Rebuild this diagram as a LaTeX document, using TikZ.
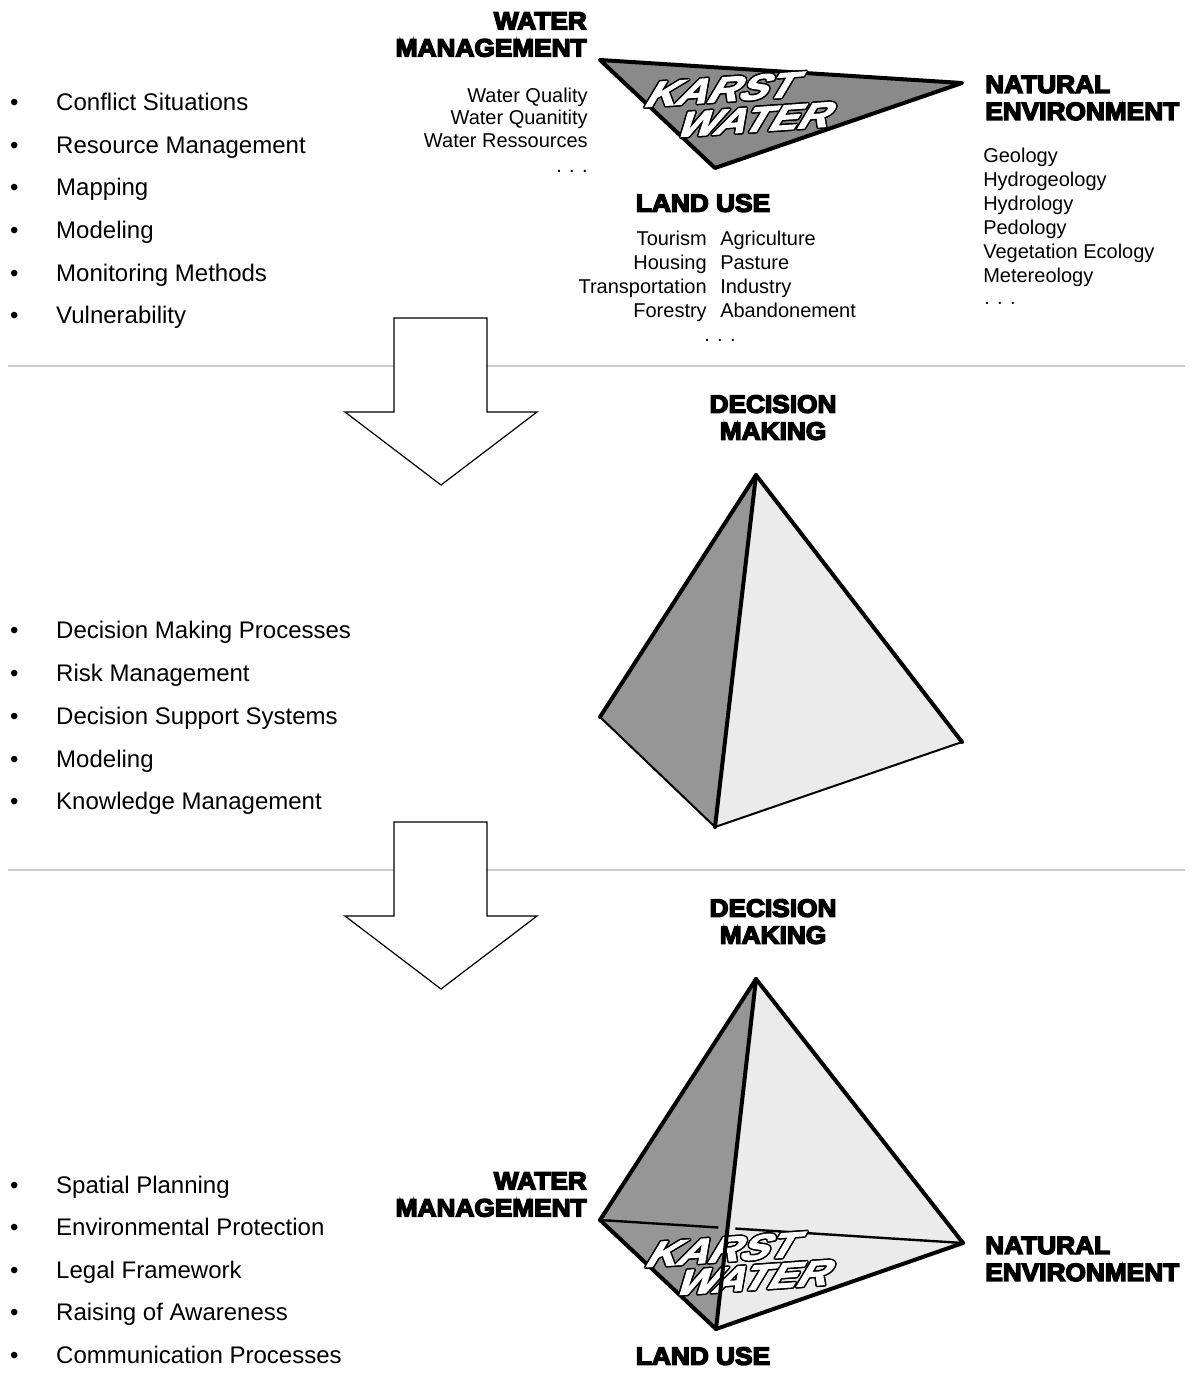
\documentclass[tikz,border=0pt]{standalone}
\usepackage{fontspec}
\setmainfont{Liberation Sans}
\newfontfamily\headfont[BoldFeatures={FakeBold=6,FakeStretch=1.05}]{Liberation Sans}
\newfontfamily\karstfont[BoldFeatures={FakeSlant=0.7,FakeStretch=1.25,FakeBold=3}]{Liberation Sans}
\usetikzlibrary{calc}

\definecolor{karstgray}{gray}{0.54}
\definecolor{facedark}{gray}{0.59}
\definecolor{facelight}{gray}{0.92}
\definecolor{sepgray}{gray}{0.8}

\tikzset{
  listtxt/.style={font=\fontsize{18}{21.6}\selectfont, inner sep=0pt, anchor=base west,
    execute at begin node={\llap{\textbullet\hspace{28.35pt}}}},
  infotxt/.style={font=\fontsize{15}{18}\selectfont, inner sep=0pt},
  headtxt/.style={font=\headfont\bfseries\fontsize{18.75}{20.25}\selectfont, inner sep=0pt},
  karsttxt/.style={font=\karstfont\bfseries\fontsize{26}{30}\selectfont, inner sep=0pt, rotate=4},
  thickedge/.style={line width=3pt, line join=round, line cap=round},
  thinedge/.style={line width=1.5pt, line cap=round},
  arrowshape/.style={draw=black, fill=white, line width=0.9pt},
  sepline/.style={draw=sepgray, line width=1.5pt}
}

\begin{document}
\begin{tikzpicture}[x=0.75pt, y=-0.75pt] %Karst water diagram
    \useasboundingbox (0,0) rectangle (1193,1373);

    % separators
    \draw[sepline] (8,366) -- (1185,366);
    \draw[sepline] (8,870) -- (1185,870);

    % arrows
    \coordinate (ar1) at (441,485);
    \coordinate (ar2) at (441,989);
    \draw[arrowshape] (394,318) -- (487,318) -- (487,412) -- (537,412) -- (ar1) -- (345,412) -- (394,412) -- cycle;
    \draw[arrowshape] (394,822) -- (487,822) -- (487,916) -- (537,916) -- (ar2) -- (345,916) -- (394,916) -- cycle;

    % first list
    \node[listtxt] (cs) at (56,110.7) {Conflict Situations};
    \node[listtxt] (rm) at (56,153.3) {Resource Management};
    \node[listtxt] (mp) at (56,195.9) {Mapping};
    \node[listtxt] (md) at (56,238.5) {Modeling};
    \node[listtxt] (mm) at (56,281.1) {Monitoring Methods};
    \node[listtxt] (vu) at (56,323.7) {Vulnerability};

    % second list
    \node[listtxt] (dp) at (56,638.6) {Decision Making Processes};
    \node[listtxt] (rk) at (56,681.4) {Risk Management};
    \node[listtxt] (ds) at (56,724.2) {Decision Support Systems};
    \node[listtxt] (mo) at (56,767.0) {Modeling};
    \node[listtxt] (km) at (56,809.8) {Knowledge Management};

    % third list
    \node[listtxt] (sp) at (56,1193.5) {Spatial Planning};
    \node[listtxt] (ep) at (56,1235.9) {Environmental Protection};
    \node[listtxt] (lf) at (56,1278.3) {Legal Framework};
    \node[listtxt] (ra) at (56,1320.7) {Raising of Awareness};
    \node[listtxt] (cp) at (56,1363.1) {Communication Processes};

    % top triangle
    \coordinate (tw) at (600,60);
    \coordinate (tn) at (962,83);
    \coordinate (tl) at (715,168);
    \filldraw[fill=karstgray, thickedge] (tw) -- (tn) -- (tl) -- cycle;

    \node[headtxt, align=right, anchor=north east] (wm) at (587,12) {WATER\\MANAGEMENT};
    \node[infotxt, font=\fontsize{15}{17}\selectfont, align=right, anchor=north east] (wml) at (588,87.5) {Water Quality\\Water Quanitity\\Water Ressources};
    \node[infotxt, anchor=base east] (wmd) at (588,173) {. . .};

    \node[headtxt, align=left, anchor=north west] (ne) at (985,75.5) {NATURAL\\ENVIRONMENT};
    \node[infotxt, align=left, anchor=north west] (nel) at (983,147.5) {Geology\\Hydrogeology\\Hydrology\\Pedology\\Vegetation Ecology\\Metereology};
    \node[infotxt, anchor=base west] (ned) at (984,304) {. . .};

    \node[headtxt, anchor=north] (lu) at (703,194) {LAND USE};
    \node[infotxt, align=right, anchor=north east] (lul) at (707,230.5) {Tourism\\Housing\\Transportation\\Forestry};
    \node[infotxt, align=left, anchor=north west] (lur) at (720,230.5) {Agriculture\\Pasture\\Industry\\Abandonement};
    \node[infotxt, anchor=base] (lud) at (720,341) {. . .};

    % first pyramid
    \coordinate (p1a) at (756,475);
    \coordinate (p1w) at (600,717);
    \coordinate (p1l) at (715,827);
    \coordinate (p1n) at (962,742);
    \fill[facedark] (p1a) -- (p1w) -- (p1l) -- cycle;
    \fill[facelight] (p1a) -- (p1l) -- (p1n) -- cycle;
    \draw[thinedge] (p1w) -- (p1l) -- (p1n);
    \draw[thickedge] (p1w) -- (p1a) -- (p1n);
    \draw[thickedge] (p1a) -- (p1l);

    \node[headtxt, align=center, anchor=north] (dm1) at (773,395) {DECISION\\MAKING};

    % second pyramid
    \coordinate (p2a) at (756,979);
    \coordinate (p2w) at (600,1220);
    \coordinate (p2l) at (716,1329);
    \coordinate (p2n) at (963,1243);
    \fill[facedark] (p2a) -- (p2w) -- (p2l) -- cycle;
    \fill[facelight] (p2a) -- (p2l) -- (p2n) -- cycle;
    \coordinate (bk1) at ($(p2w)!0.326!(p2n)$);
    \coordinate (bk2) at ($(p2w)!0.373!(p2n)$);
    \draw[line width=1.8pt] (p2w) -- (bk1);
    \draw[line width=1.8pt] (bk2) -- (p2n);
    \draw[thickedge] (p2w) -- (p2l) -- (p2n);

    \node[headtxt, align=center, anchor=north] (dm2) at (773,899) {DECISION\\MAKING};
    \node[headtxt, align=right, anchor=north east] (wm2) at (587,1172) {WATER\\MANAGEMENT};
    \node[headtxt, align=left, anchor=north west] (ne2) at (985,1236.5) {NATURAL\\ENVIRONMENT};
    \node[headtxt, anchor=north] (lu2) at (703,1347) {LAND USE};

    % karst water lettering, outlined
    \foreach \a in {0,30,...,330}{
        \node[karsttxt, text=black, shift={(\a:1.5)}] (ka\a) at (716,90) {KARST};
        \node[karsttxt, text=black, shift={(\a:1.5)}] (wa\a) at (749,120) {WATER};
        \node[karsttxt, text=black, shift={(\a:1.5)}] (kb\a) at (717,1250) {KARST};
        \node[karsttxt, text=black, shift={(\a:1.5)}] (wb\a) at (748,1278) {WATER};
    }
    \node[karsttxt, text=white] (ka) at (716,90) {KARST};
    \node[karsttxt, text=white] (wa) at (749,120) {WATER};
    \node[karsttxt, text=white] (kb) at (717,1250) {KARST};
    \node[karsttxt, text=white] (wb) at (748,1278) {WATER};

    \draw[thickedge] (p2w) -- (p2a) -- (p2n);
    \draw[thickedge] (p2a) -- (p2l);
\end{tikzpicture}
\end{document}
